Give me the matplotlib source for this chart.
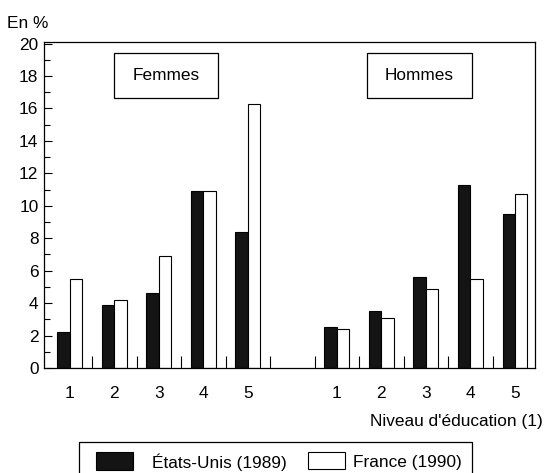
import numpy as np
import matplotlib.pyplot as plt
from matplotlib.patches import Rectangle

plt.rcParams['font.family'] = ['Liberation Sans', 'DejaVu Sans']

# niveaux d'education
levels = ['1', '2', '3', '4', '5']
femmes_us = [2.2, 3.9, 4.6, 10.9, 8.4]
femmes_fr = [5.5, 4.2, 6.9, 10.9, 16.3]
hommes_us = [2.5, 3.5, 5.6, 11.3, 9.5]
hommes_fr = [2.4, 3.1, 4.9, 5.5, 10.7]
series_names = ['États-Unis (1989)', 'France (1990)']

W, H = 546, 473
fs = 12.4
fig = plt.figure(figsize=(W/100, H/100), dpi=100)
ax = fig.add_axes([44/W, 1-368/H, 491/W, 326/H])

x_f = np.arange(5)
x_h = np.arange(5) + 6
w = 0.28
dark = '#141414'

ax.bar(x_f - w/2, femmes_us, w, color=dark, edgecolor='black', linewidth=0.8)
ax.bar(x_f + w/2, femmes_fr, w, color='white', edgecolor='black', linewidth=0.8)
ax.bar(x_h - w/2, hommes_us, w, color=dark, edgecolor='black', linewidth=0.8)
ax.bar(x_h + w/2, hommes_fr, w, color='white', edgecolor='black', linewidth=0.8)

ax.set_xlim(-0.58, 10.45)
ax.set_ylim(0, 20.1)
ax.set_yticks(np.arange(0, 21, 2))
ax.set_yticks(np.arange(1, 20, 2), minor=True)
ax.set_xticks(np.concatenate([x_f, x_h]))
ax.set_xticklabels(levels + levels)
ax.set_xticks(np.arange(0.5, 10, 1), minor=True)

ax.tick_params(axis='y', which='major', direction='in', length=6, width=0.8, labelsize=fs, pad=4)
ax.tick_params(axis='y', which='minor', direction='in', length=4, width=0.8)
ax.tick_params(axis='x', which='major', length=0, labelsize=fs, pad=13)
ax.tick_params(axis='x', which='minor', direction='in', length=9, width=0.8)
for s in ax.spines.values():
    s.set_linewidth(0.9)

# group labels in boxes
for x0, x1, txt in [(0.1426, 0.354, 'Femmes'), (0.658, 0.872, 'Hommes')]:
    ax.add_patch(Rectangle((x0, 0.828), x1 - x0, 0.138, transform=ax.transAxes,
                           facecolor='white', edgecolor='black', linewidth=0.9))
    ax.text((x0 + x1) / 2, 0.897, txt, transform=ax.transAxes,
            ha='center', va='center', fontsize=fs)

fig.text(7/W, 1-23/H, 'En %', va='center', ha='left', fontsize=fs)
fig.text(543/W, 1-421/H, "Niveau d'éducation (1)", va='center', ha='right', fontsize=fs)

# legend drawn by hand (frame cut by the bottom edge)
def px(x, y):
    return x / W, 1 - y / H

fig.add_artist(Rectangle((79/W, -0.05), 393/W, 0.05 + 1-442/H, transform=fig.transFigure,
                         facecolor='white', edgecolor='black', linewidth=0.9))
fig.add_artist(Rectangle(px(96, 470), 37/W, 18/H, transform=fig.transFigure,
                         facecolor=dark, edgecolor='black', linewidth=0.8))
fig.text(*px(152, 462), series_names[0], va='center', ha='left', fontsize=fs)
fig.add_artist(Rectangle(px(308, 469), 37/W, 17/H, transform=fig.transFigure,
                         facecolor='white', edgecolor='black', linewidth=0.8))
fig.text(*px(353, 462), series_names[1], va='center', ha='left', fontsize=fs)

fig.savefig('out.png', dpi=100)
